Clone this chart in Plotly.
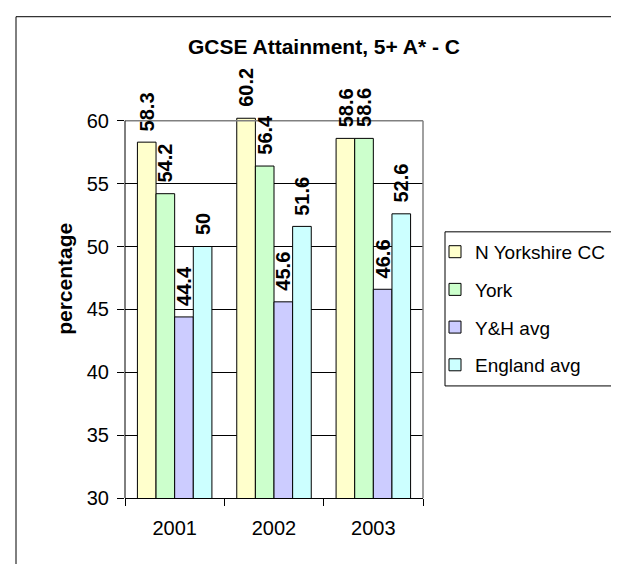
import plotly.graph_objects as go

years = ["2001", "2002", "2003"]
series_names = ["N Yorkshire CC", "York", "Y&H avg", "England avg"]
n_yorkshire = [58.3, 60.2, 58.6]
york = [54.2, 56.4, 58.6]
yh_avg = [44.4, 45.6, 46.6]
england_avg = [50, 51.6, 52.6]
colors = ["#FFFFCC", "#CCFFCC", "#CCCCFF", "#CCFFFF"]
y_ticks = [30, 35, 40, 45, 50, 55, 60]

W, H = 619, 564
Y_MIN, Y_TOP, Y_MAX = 30, 60, 60.3   # axis range slightly above 60 so 60.2 bar shows
L, R, B = 117, 415, 490
PIX_PER_UNIT = (490 - 113) / (Y_TOP - Y_MIN)
T = B - PIX_PER_UNIT * (Y_MAX - Y_MIN)
BARGAP = 0.25

def px(x):
    return (x - L) / (R - L)

def py(y):
    return (B - y) / (B - T)

FONT = "Arial, Liberation Sans, sans-serif"
FS = 20

all_series = [n_yorkshire, york, yh_avg, england_avg]
n_series = len(all_series)
bar_w = (1 - BARGAP) / n_series

fig = go.Figure()
annotations = []
for k, (name, vals, col) in enumerate(zip(series_names, all_series, colors)):
    fig.add_trace(go.Bar(
        x=years, y=vals, name=name, legendgroup=name,
        marker=dict(color=col, line=dict(color="black", width=1)),
        cliponaxis=False,
    ))
    offset = -(1 - BARGAP) / 2 + bar_w * (k + 0.5)
    for i, v in enumerate(vals):
        annotations.append(dict(
            text=f"<b>{v:g}</b>", xref="x", yref="y", x=i + offset, y=v,
            xanchor="center", yanchor="bottom", textangle=-90, showarrow=False,
            yshift=9, font=dict(family=FONT, size=FS, color="black"),
        ))

shapes = [
    # outer chart frame
    dict(type="rect", xref="paper", yref="paper", x0=px(8), x1=px(640), y0=py(590), y1=py(9),
         line=dict(color="black", width=1), layer="below"),
    # plot area border top and right (grey)
    dict(type="line", xref="paper", yref="y", x0=0, x1=1, y0=Y_TOP, y1=Y_TOP,
         line=dict(color="#808080", width=1.5)),
    dict(type="line", xref="paper", yref="y", x0=1, x1=1, y0=Y_MIN, y1=Y_TOP,
         line=dict(color="#808080", width=1.5)),
    # left value axis line
    dict(type="line", xref="paper", yref="y", x0=0, x1=0, y0=Y_MIN, y1=Y_TOP,
         line=dict(color="black", width=1)),
    # legend box
    dict(type="rect", xref="paper", yref="paper", x0=px(437), x1=px(640), y0=py(378), y1=py(224),
         line=dict(color="black", width=1), layer="below"),
]

annotations.append(
    dict(text="<b>percentage</b>", xref="paper", yref="paper", x=px(57), y=py(271),
         xanchor="center", yanchor="middle", textangle=-90, showarrow=False,
         font=dict(family=FONT, size=21, color="black"))
)

fig.update_layout(
    width=W, height=H,
    margin=dict(l=L, r=W - R, t=T, b=H - B, autoexpand=False),
    paper_bgcolor="white", plot_bgcolor="white",
    font=dict(family=FONT, size=FS, color="black"),
    title=dict(text="<b>GCSE Attainment, 5+ A* - C</b>", x=316 / W, xanchor="center",
               y=1 - 39 / H, yanchor="middle", xref="container", yref="container",
               font=dict(family=FONT, size=21, color="black")),
    barmode="group", bargap=BARGAP, bargroupgap=0,
    showlegend=True,
    legend=dict(x=px(427), y=py(225), xanchor="left", yanchor="top",
                bgcolor="rgba(0,0,0,0)", borderwidth=0,
                font=dict(family=FONT, size=19, color="black"),
                traceorder="grouped", tracegroupgap=10, itemwidth=30),
    shapes=shapes,
    annotations=annotations,
    xaxis=dict(type="category", showline=True, linecolor="black", linewidth=1,
               ticks="outside", tickson="boundaries", ticklen=7, tickcolor="black",
               ticklabelstandoff=12,
               tickfont=dict(family=FONT, size=FS, color="black"), showgrid=False),
    yaxis=dict(range=[Y_MIN, Y_MAX], tickvals=y_ticks, showline=False,
               ticks="outside", ticklen=7, tickcolor="black", ticklabelstandoff=4,
               tickfont=dict(family=FONT, size=FS, color="black"),
               showgrid=True, gridcolor="black", gridwidth=1, zeroline=False),
)

fig.write_html("out.html")
